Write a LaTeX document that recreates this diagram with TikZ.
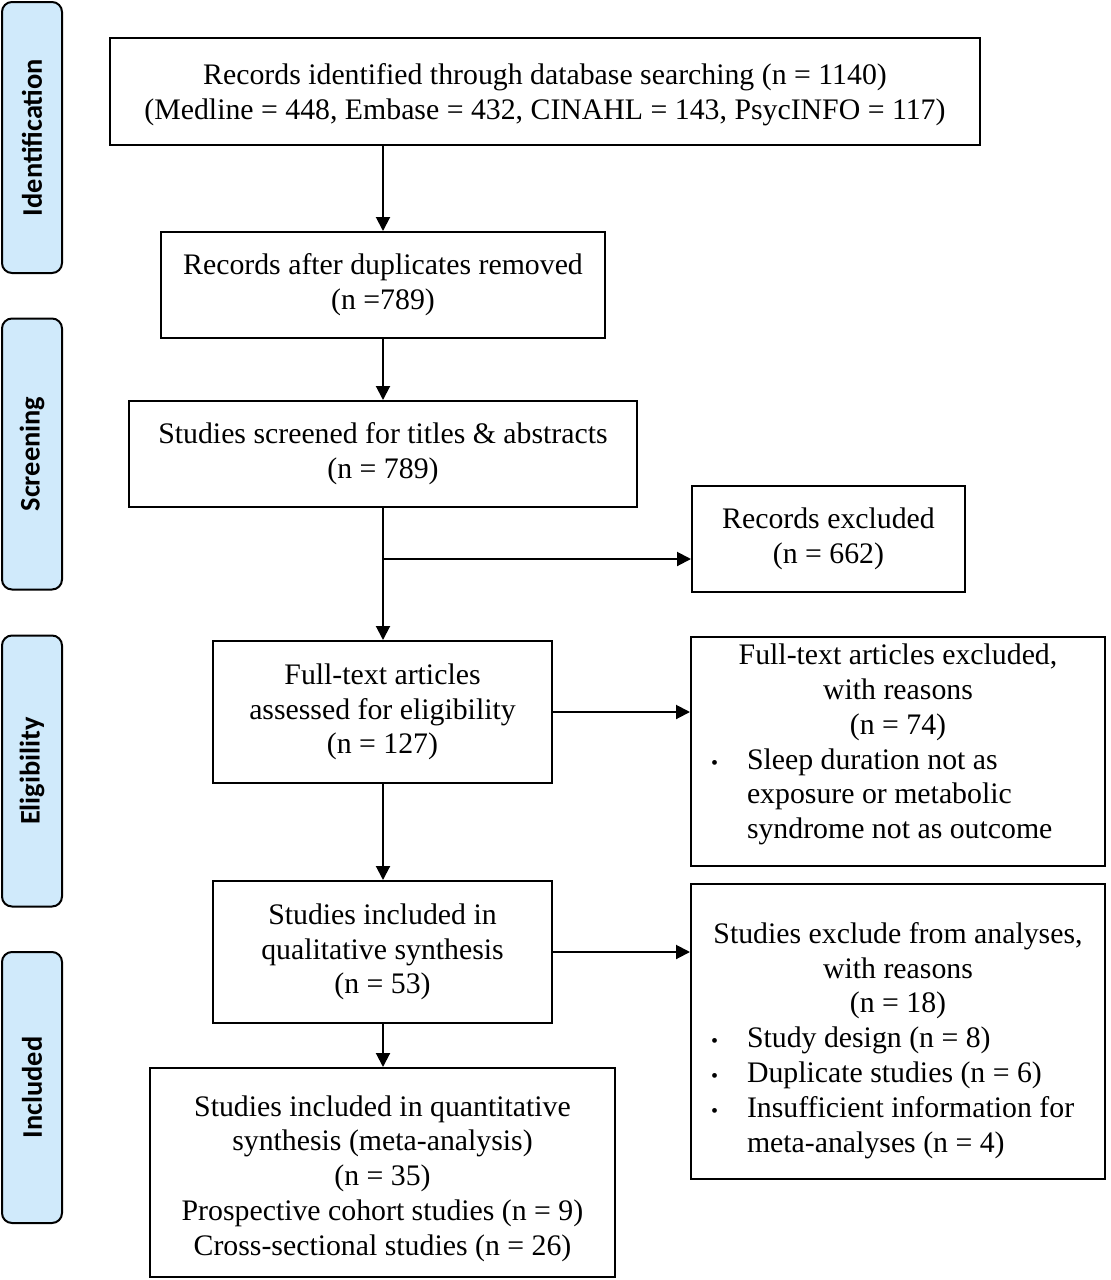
\documentclass[tikz,border=0pt]{standalone}
\usepackage{fontspec}
\setmainfont{Liberation Serif}
\newfontfamily\sidefont{Carlito}
\usetikzlibrary{arrows.meta}
\definecolor{sideblue}{HTML}{D0EAFB}
\newcommand\ctrln[1]{\hbox to\hsize{\hss#1\hss}}
\newcommand\bitem[1]{\hbox to\hsize{\hskip10pt\makebox[18pt][l]{\fontsize{10}{12}\selectfont\textbullet}#1\hfil}}
\newcommand\bcont[1]{\hbox to\hsize{\hskip28pt #1\hfil}}
\begin{document}
\begin{tikzpicture}[x=0.5pt,y=-0.5pt,
  box/.style={draw, line width=1pt, rectangle, inner sep=0pt, align=center,
    font=\fontsize{14.9}{17.4}\selectfont},
  side/.style={draw, line width=1pt, fill=sideblue, rounded corners=5pt,
    minimum height=30pt, minimum width=135.5pt, inner sep=0pt, rotate=90,
    font=\sidefont\bfseries\fontsize{14.2}{16}\selectfont},
  arr/.style={-{Triangle[length=7pt,width=7pt]}, line width=1pt}]
\useasboundingbox (0,0) rectangle (1110,1280);

% side labels
\node[side] (sid) at (32,137.5) {Identification};
\node[side] (sscr) at (32,454) {Screening};
\node[side] (selig) at (32,771) {Eligibility};
\node[side] (sincl) at (32,1087.5) {Included};

% main boxes
\node[box, minimum width=435pt, minimum height=53.5pt] (id) at (545,91.5)
  {\parbox{435pt}{\centering\vskip3pt Records identified through database searching (n = 1140)\\
   (Medline = 448, Embase = 432, CINAHL = 143, PsycINFO = 117)}};
\node[box, minimum width=222pt, minimum height=53pt] (dup) at (383,285)
  {Records after duplicates removed\\(n =789)};
\node[box, minimum width=254pt, minimum height=53pt] (scr) at (383,454)
  {Studies screened for titles \& abstracts\\(n = 789)};
\node[box, minimum width=136.5pt, minimum height=53pt] (rexc) at (828.5,539)
  {Records excluded\\(n = 662)};
\node[box, minimum width=169.5pt, minimum height=71pt] (ft) at (382.5,712)
  {Full-text articles\\assessed for eligibility\\(n = 127)};
\node[box, minimum width=207pt, minimum height=114.5pt] (ftexc) at (898,751.5)
  {\parbox{207pt}{\ctrln{Full-text articles excluded,}\ctrln{with reasons}\ctrln{(n = 74)}%
   \bitem{Sleep duration not as}\bcont{exposure or metabolic}\bcont{syndrome not as outcome}%
   \vskip7pt}};
\node[box, minimum width=169.5pt, minimum height=71pt] (qual) at (382.5,952)
  {Studies included in\\qualitative synthesis\\(n = 53)};
\node[box, minimum width=207pt, minimum height=147.5pt] (anexc) at (898,1031.5)
  {\parbox{207pt}{\vskip9pt\ctrln{Studies exclude from analyses,}\ctrln{with reasons}\ctrln{(n = 18)}%
   \bitem{Study design (n = 8)}\bitem{Duplicate studies (n = 6)}%
   \bitem{Insufficient information for}\bcont{meta-analyses (n = 4)}}};
\node[box, minimum width=232.5pt, minimum height=104.5pt] (quant) at (382.5,1172.5)
  {\parbox{232.5pt}{\centering\vskip6pt Studies included in quantitative\\synthesis (meta-analysis)\\(n = 35)\\
   Prospective cohort studies (n = 9)\\Cross-sectional studies (n = 26)}};

% connectors
\coordinate (br) at (383,559);
\draw[arr] (dup.north |- id.south) -- (dup.north);
\draw[arr] (dup.south) -- (dup.south |- scr.north);
\draw[arr] (scr.south) -- (ft.north -| scr.south);
\draw[arr] (br) -- (rexc.west |- br);
\draw[arr] (ft.east) -- (ftexc.west |- ft.east);
\draw[arr] (ft.south -| br) -- (qual.north -| br);
\draw[arr] (qual.east) -- (anexc.west |- qual.east);
\draw[arr] (qual.south -| br) -- (quant.north -| br);
\end{tikzpicture}
\end{document}
